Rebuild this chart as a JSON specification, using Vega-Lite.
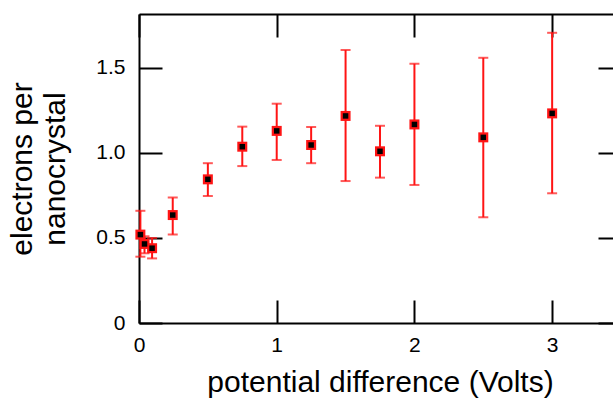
{
  "$schema": "https://vega.github.io/schema/vega-lite/v6.json",
  "width": 482,
  "height": 309,
  "autosize": {"type": "none"},
  "padding": {"left": 139, "top": 14, "right": -8, "bottom": 76},
  "background": "white",
  "config": {
    "view": {"stroke": null},
    "font": "Liberation Sans",
    "axis": {
      "grid": false,
      "domainColor": "black",
      "domainWidth": 2,
      "tickColor": "black",
      "tickWidth": 2,
      "labelColor": "black",
      "titleColor": "black",
      "labelFont": "Liberation Sans",
      "titleFont": "Liberation Sans",
      "labelFontSize": 21,
      "titleFontSize": 30,
      "titleFontWeight": "normal",
      "labelFlush": false,
      "labelOverlap": false
    }
  },
  "data": {
    "values": [
      {"v": 0.01, "e": 0.52, "lo": 0.39, "hi": 0.66},
      {"v": 0.04, "e": 0.465, "lo": 0.41, "hi": 0.51},
      {"v": 0.095, "e": 0.44, "lo": 0.38, "hi": 0.5},
      {"v": 0.245, "e": 0.635, "lo": 0.52, "hi": 0.738},
      {"v": 0.5, "e": 0.845, "lo": 0.747, "hi": 0.94},
      {"v": 0.75, "e": 1.037, "lo": 0.923, "hi": 1.155},
      {"v": 1.0, "e": 1.13, "lo": 0.959, "hi": 1.29},
      {"v": 1.25, "e": 1.047, "lo": 0.94, "hi": 1.153},
      {"v": 1.5, "e": 1.218, "lo": 0.835, "hi": 1.606},
      {"v": 1.75, "e": 1.01, "lo": 0.855, "hi": 1.16},
      {"v": 2.0, "e": 1.168, "lo": 0.812, "hi": 1.525},
      {"v": 2.5, "e": 1.092, "lo": 0.622, "hi": 1.56},
      {"v": 3.0, "e": 1.233, "lo": 0.763, "hi": 1.707}
    ]
  },
  "layer": [
    {
      "mark": {
        "type": "errorbar",
        "color": "#ff1414",
        "rule": {"strokeWidth": 2},
        "ticks": {"size": 10, "thickness": 2}
      },
      "encoding": {
        "x": {
          "field": "v", "type": "quantitative",
          "scale": {"domain": [0, 3.5], "nice": false},
          "axis": {
            "orient": "bottom",
            "values": [0, 1, 2, 3],
            "tickSize": -23,
            "labelPadding": 34.5,
            "labelBaseline": "top",
            "title": "potential difference (Volts)",
            "titleX": 241,
            "titleY": 68,
            "titleBaseline": "alphabetic",
            "titleAlign": "center"
          }
        },
        "y": {
          "field": "lo", "type": "quantitative",
          "scale": {"domain": [0, 1.8176], "nice": false},
          "axis": {
            "orient": "left",
            "values": [0, 0.5, 1, 1.5],
            "labelExpr": "datum.value == 0 ? '0' : format(datum.value, '.1f')",
            "tickSize": -23,
            "labelPadding": 37,
            "title": ["electrons per", "nanocrystal"],
            "titleAngle": 270,
            "titleX": -108,
            "titleY": 154.5,
            "titleBaseline": "alphabetic",
            "titleAlign": "center",
            "titleLineHeight": 33
          }
        },
        "y2": {"field": "hi"}
      }
    },
    {
      "mark": {"type": "square", "color": "#ff1414", "opacity": 1, "size": 100},
      "encoding": {
        "x": {
          "field": "v", "type": "quantitative",
          "axis": {"orient": "top", "values": [0, 1, 2, 3], "labels": false, "tickSize": -23, "title": null}
        },
        "y": {
          "field": "e", "type": "quantitative",
          "axis": {"orient": "right", "values": [0, 0.5, 1, 1.5], "labels": false, "tickSize": -23, "title": null}
        }
      }
    },
    {
      "mark": {"type": "square", "color": "black", "opacity": 1, "size": 30},
      "encoding": {
        "x": {"field": "v", "type": "quantitative", "axis": null},
        "y": {"field": "e", "type": "quantitative", "axis": null}
      }
    }
  ],
  "resolve": {"axis": {"x": "independent", "y": "independent"}}
}
